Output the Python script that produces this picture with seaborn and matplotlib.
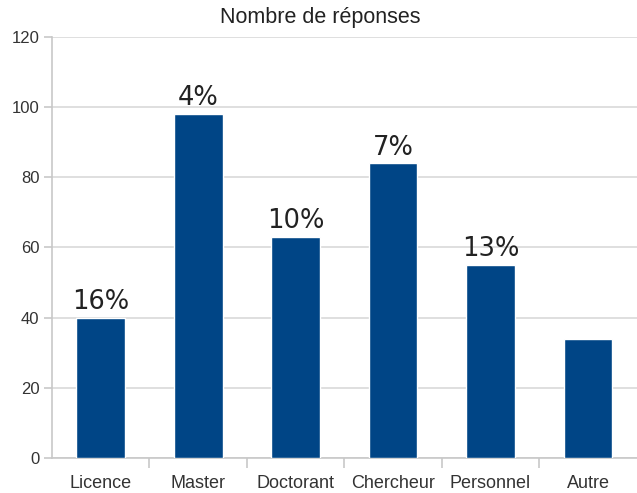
import numpy as np
import matplotlib
matplotlib.use("Agg")
import matplotlib.pyplot as plt
import seaborn as sns

categories = ["Licence", "Master", "Doctorant", "Chercheur", "Personnel", "Autre"]
responses = [40, 98, 63, 84, 55, 34]
pct_labels = ["16%", "4%", "10%", "7%", "13%", ""]

sns.set_style("white")
plt.rcParams['font.family'] = ['Liberation Sans', 'DejaVu Sans']

fig = plt.figure(figsize=(6.37, 4.93), dpi=100)
ax = fig.add_axes([0.0816, 0.071, 0.918, 0.854])

sns.barplot(x=categories, y=responses, color="#004586", width=0.5,
            saturation=1, ax=ax, zorder=3)

ax.set_xlim(-0.5, 5.5)
ax.set_ylim(0, 120)
ax.set_yticks(np.arange(0, 121, 20))
ax.yaxis.grid(True, color="#d9d9d9", linewidth=1.2, zorder=0)
ax.set_axisbelow(True)

for s in ["top", "right"]:
    ax.spines[s].set_visible(False)
ax.spines["left"].set_color("#c8c8c8")
ax.spines["bottom"].set_color("#c8c8c8")
ax.spines["left"].set_linewidth(1.2)
ax.spines["bottom"].set_linewidth(1.2)

# category ticks sit between bars, labels sit under bars
ax.set_xticks(np.arange(0.5, 5.0, 1.0), minor=True)
ax.tick_params(axis="x", which="minor", bottom=True, length=7, width=1.2,
               color="#c8c8c8", direction="out")
ax.tick_params(axis="x", which="major", bottom=True, length=0, pad=12,
               labelsize=13, labelcolor="#333333")
ax.tick_params(axis="y", left=True, length=6, width=1.2, color="#c8c8c8",
               labelsize=12, labelcolor="#333333", pad=3)
ax.set_xlabel("")
ax.set_ylabel("")

ax.bar_label(ax.containers[0], labels=pct_labels, padding=2, fontsize=18.5,
             family="DejaVu Sans", color="#222222")

fig.suptitle("Nombre de réponses", x=0.502, y=0.985, fontsize=15.5, color="#222222")

fig.savefig("out.png", dpi=100)
